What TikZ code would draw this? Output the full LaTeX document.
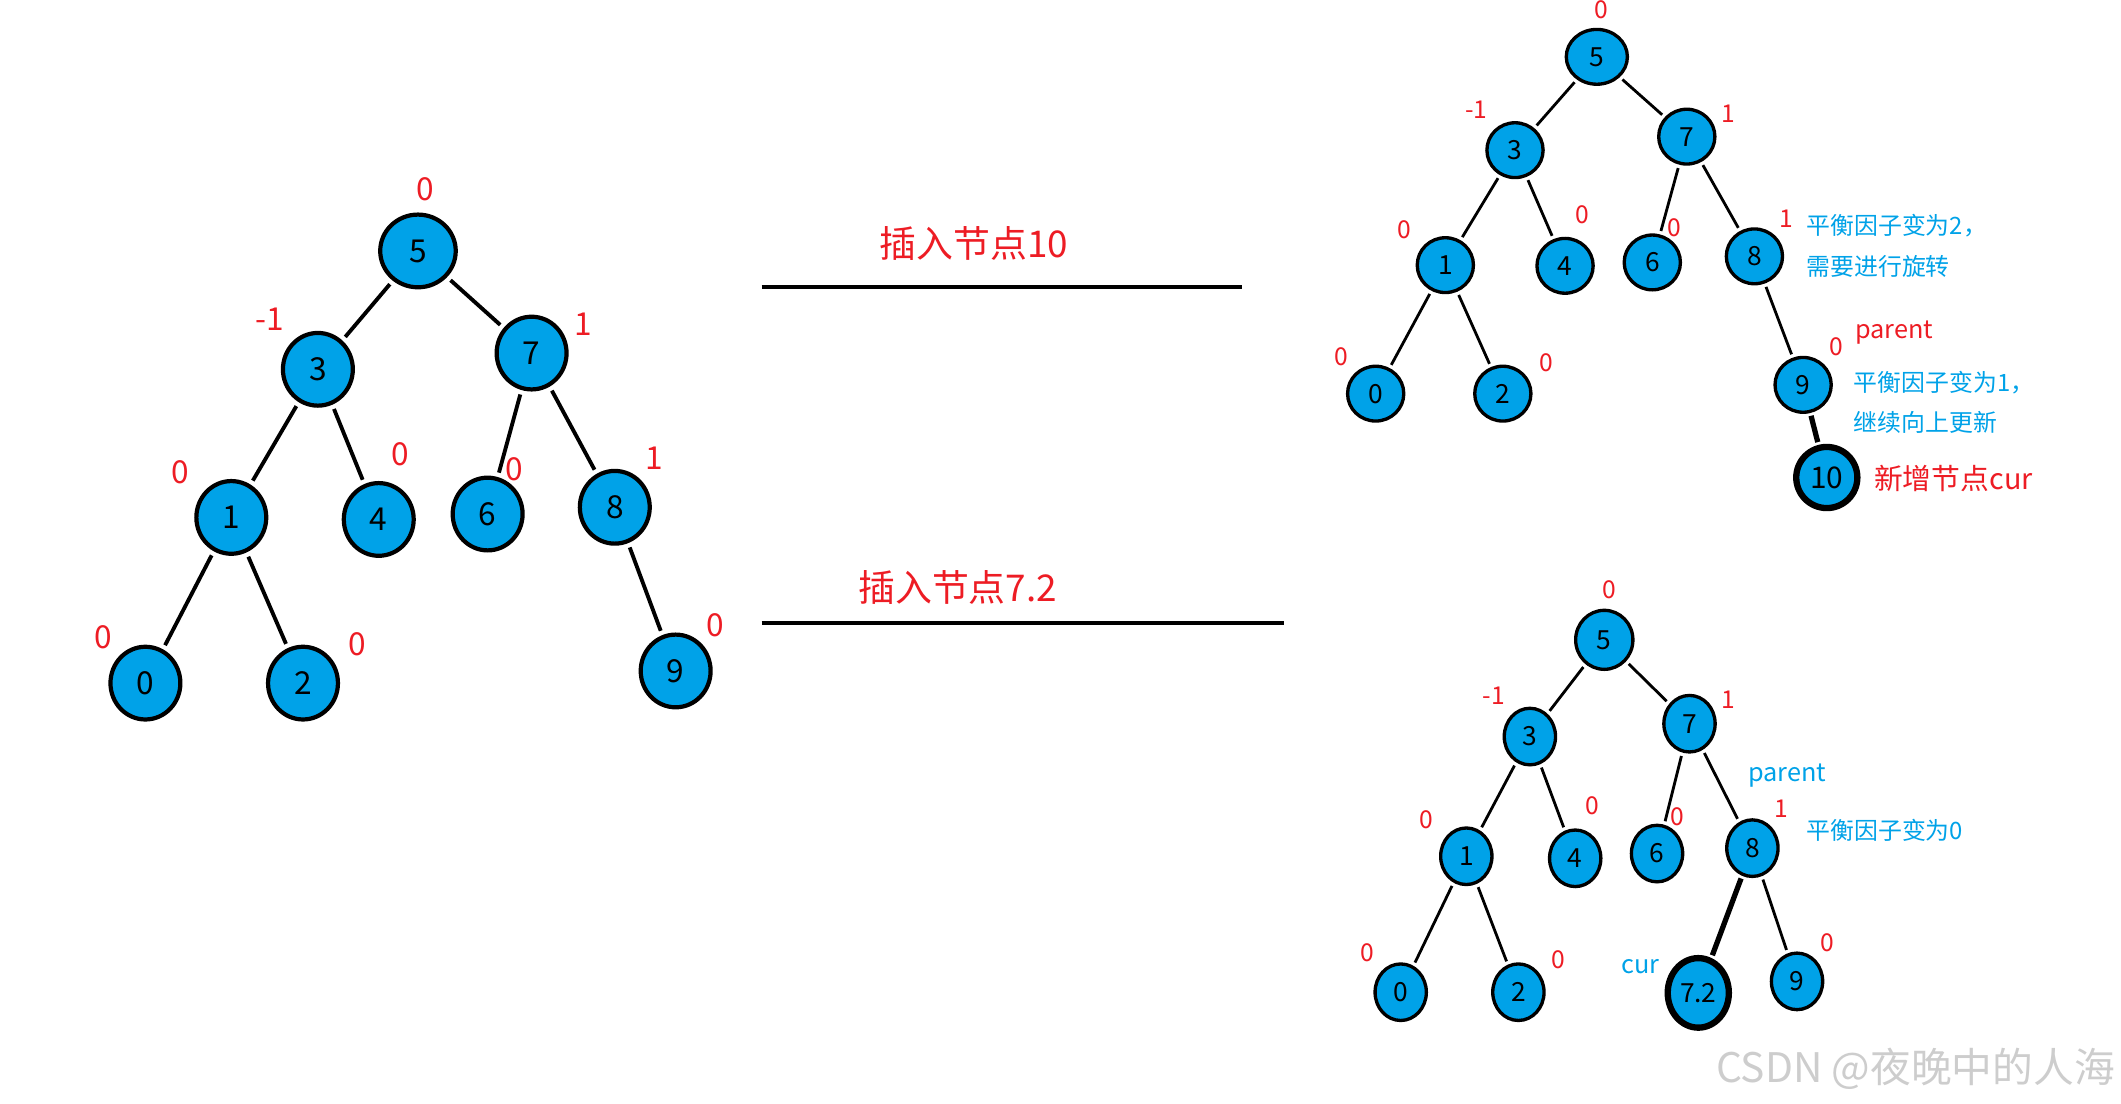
\documentclass[tikz,border=0pt]{standalone}
\usepackage{fontspec}
\newfontfamily\cjk{Noto Sans CJK SC}
\usetikzlibrary{shapes.geometric}
\definecolor{pblue}{HTML}{00A2E8}
\definecolor{pred}{HTML}{ED1C24}
\definecolor{wmgray}{HTML}{CDCDCD}
\newcommand\myfs[1]{\fontsize{#1}{#1}\selectfont}
\begin{document}
\begin{tikzpicture}[x=0.013527cm, y=-0.013527cm,
  tn/.style={ellipse, draw=black, fill=pblue, inner sep=0pt},
  lnode/.style={tn, line width=1.2pt, minimum width=19.9pt, minimum height=20.7pt, font=\cjk\myfs{9}},
  tnode/.style={tn, line width=0.95pt, minimum width=16pt, minimum height=15.6pt, font=\cjk\myfs{7.5}},
  bnode/.style={tn, line width=0.95pt, minimum width=14.6pt, minimum height=16.1pt, font=\cjk\myfs{7.5}},
  heavy/.style={line width=1.8pt},
  lbf/.style={text=pred, font=\cjk\myfs{9}, inner sep=0pt},
  rbf/.style={text=pred, font=\cjk\myfs{7}, inner sep=0pt},
  ledge/.style={line width=1.1pt, shorten <=1.3pt, shorten >=1.3pt},
  redge/.style={line width=0.8pt, shorten <=1pt, shorten >=1pt},
  bedge/.style={line width=1.5pt, shorten <=0.8pt, shorten >=0.8pt},
  bluenote/.style={anchor=west, inner sep=0pt, text=pblue, font=\cjk\myfs{6.8}},
  rednote/.style={anchor=west, inner sep=0pt, text=pred, font=\cjk\myfs{7.2}},
  titletext/.style={text=pred, font=\cjk\myfs{10.5}, inner sep=0pt},
  hline/.style={line width=1.15pt},
]
\useasboundingbox (0,0) rectangle (1568,816);

% ---------------- left tree ----------------
\node[lnode, minimum width=21.5pt] (L5) at (309,185.5) {5};
\node[lnode] (L3) at (235,273) {3};
\node[lnode] (L7) at (393,261) {7};
\node[lnode] (L1) at (171,382.5) {1};
\node[lnode] (L4) at (280,384) {4};
\node[lnode] (L6) at (360.5,380) {6};
\node[lnode] (L8) at (454.5,375) {8};
\node[lnode] (L0) at (107.5,505) {0};
\node[lnode] (L2) at (224,505) {2};
\node[lnode] (L9) at (499.5,496) {9};
\draw[ledge] (L5) -- (L3);
\draw[ledge] (L5) -- (L7);
\draw[ledge] (L3) -- (L1);
\draw[ledge] (L3) -- (L4);
\draw[ledge] (L7) -- (L6);
\draw[ledge] (L7) -- (L8);
\draw[ledge] (L1) -- (L0);
\draw[ledge] (L1) -- (L2);
\draw[ledge] (L8) -- (L9);
\node[lbf] (Lb5) at (314.5,140) {0};
\node[lbf] (Lb3) at (199.5,236) {-1};
\node[lbf] (Lb7) at (431,240) {1};
\node[lbf] (Lb1) at (133.5,349) {0};
\node[lbf] (Lb4) at (296,336) {0};
\node[lbf] (Lb6) at (380.5,347) {0};
\node[lbf] (Lb8) at (483.5,339) {1};
\node[lbf] (Lb0) at (76,471) {0};
\node[lbf] (Lb2) at (264,476) {0};
\node[lbf] (Lb9) at (529,462) {0};

% ---------------- middle ----------------
\node[titletext] (T1) at (720,180) {插入节点10};
\coordinate (H1a) at (563,212);
\coordinate (H1b) at (918,212);
\draw[hline] (H1a) -- (H1b);
\node[titletext] (T2) at (708,434) {插入节点7.2};
\coordinate (H2a) at (563,460.5);
\coordinate (H2b) at (949,460.5);
\draw[hline] (H2a) -- (H2b);

% ---------------- top right tree ----------------
\node[tnode, minimum width=17.4pt] (A5) at (1180.5,42) {5};
\node[tnode] (A3) at (1120,111) {3};
\node[tnode] (A7) at (1247,101) {7};
\node[tnode] (A1) at (1068.5,196) {1};
\node[tnode] (A4) at (1157,196.5) {4};
\node[tnode] (A6) at (1221.5,194) {6};
\node[tnode] (A8) at (1297,189.5) {8};
\node[tnode] (A0) at (1017,291) {0};
\node[tnode] (A2) at (1111,291) {2};
\node[tnode] (A9) at (1333,284.5) {9};
\node[tnode, heavy, minimum width=17.4pt, minimum height=17.4pt, font=\cjk\myfs{8.5}] (A10) at (1350.5,353) {10};
\draw[redge] (A5) -- (A3);
\draw[redge] (A5) -- (A7);
\draw[redge] (A3) -- (A1);
\draw[redge] (A3) -- (A4);
\draw[redge] (A7) -- (A6);
\draw[redge] (A7) -- (A8);
\draw[redge] (A1) -- (A0);
\draw[redge] (A1) -- (A2);
\draw[redge] (A8) -- (A9);
\draw[bedge] (A9) -- (A10);
\node[rbf] (Ab5) at (1183.5,7) {0};
\node[rbf] (Ab3) at (1091.5,81) {-1};
\node[rbf] (Ab7) at (1278,84) {1};
\node[rbf] (Ab1) at (1038.5,169.5) {0};
\node[rbf] (Ab4) at (1170,159) {0};
\node[rbf] (Ab6) at (1237.5,168.5) {0};
\node[rbf] (Ab8) at (1320.5,161.5) {1};
\node[rbf] (Ab0) at (991.5,263.5) {0};
\node[rbf] (Ab2) at (1143.5,268) {0};
\node[rbf] (Ab9) at (1357.5,256.5) {0};
\node[bluenote] (An1) at (1335,167) {平衡因子变为2，};
\node[bluenote] (An2) at (1335,197) {需要进行旋转};
\node[rednote] (An3) at (1371,246) {parent};
\node[bluenote] (An4) at (1370,283) {平衡因子变为1，};
\node[bluenote] (An5) at (1370,312.5) {继续向上更新};
\node[rednote, font=\cjk\myfs{8.2}] (An6) at (1385,354) {新增节点cur};

% ---------------- bottom right tree ----------------
\node[bnode, minimum width=16.3pt, minimum height=16.8pt] (B5) at (1186,473) {5};
\node[bnode] (B3) at (1131,544.5) {3};
\node[bnode] (B7) at (1249,535) {7};
\node[bnode] (B1) at (1084,633) {1};
\node[bnode] (B4) at (1164.5,634.5) {4};
\node[bnode] (B6) at (1225,631) {6};
\node[bnode] (B8) at (1295.5,627) {8};
\node[bnode] (B0) at (1035.5,733.5) {0};
\node[bnode] (B2) at (1122.5,733.5) {2};
\node[bnode, heavy, minimum width=17.4pt, minimum height=19.8pt] (B72) at (1255.5,734) {7.2};
\node[bnode] (B9) at (1328.5,725.5) {9};
\draw[redge] (B5) -- (B3);
\draw[redge] (B5) -- (B7);
\draw[redge] (B3) -- (B1);
\draw[redge] (B3) -- (B4);
\draw[redge] (B7) -- (B6);
\draw[redge] (B7) -- (B8);
\draw[redge] (B1) -- (B0);
\draw[redge] (B1) -- (B2);
\draw[bedge] (B8) -- (B72);
\draw[redge] (B8) -- (B9);
\node[rbf] (Bb5) at (1190,436) {0};
\node[rbf] (Bb3) at (1104.5,514) {-1};
\node[rbf] (Bb7) at (1278,517.5) {1};
\node[rbf] (Bb1) at (1054.5,606) {0};
\node[rbf] (Bb4) at (1177,595.5) {0};
\node[rbf] (Bb6) at (1240,604) {0};
\node[rbf] (Bb8) at (1317,597.5) {1};
\node[rbf] (Bb0) at (1011,704.5) {0};
\node[rbf] (Bb2) at (1152,709.5) {0};
\node[rbf] (Bb9) at (1351,697) {0};
\node[bluenote, font=\cjk\myfs{7.2}] (Bn1) at (1292,573.5) {parent};
\node[bluenote] (Bn2) at (1335,613.5) {平衡因子变为0};
\node[bluenote, font=\cjk\myfs{7.2}] (Bn3) at (1198,714.5) {cur};

% ---------------- watermark ----------------
\node[anchor=east, inner sep=0pt, text=wmgray, font=\cjk\myfs{11.6}] (WM) at (1564,790) {CSDN @夜晚中的人海};
\end{tikzpicture}
\end{document}
